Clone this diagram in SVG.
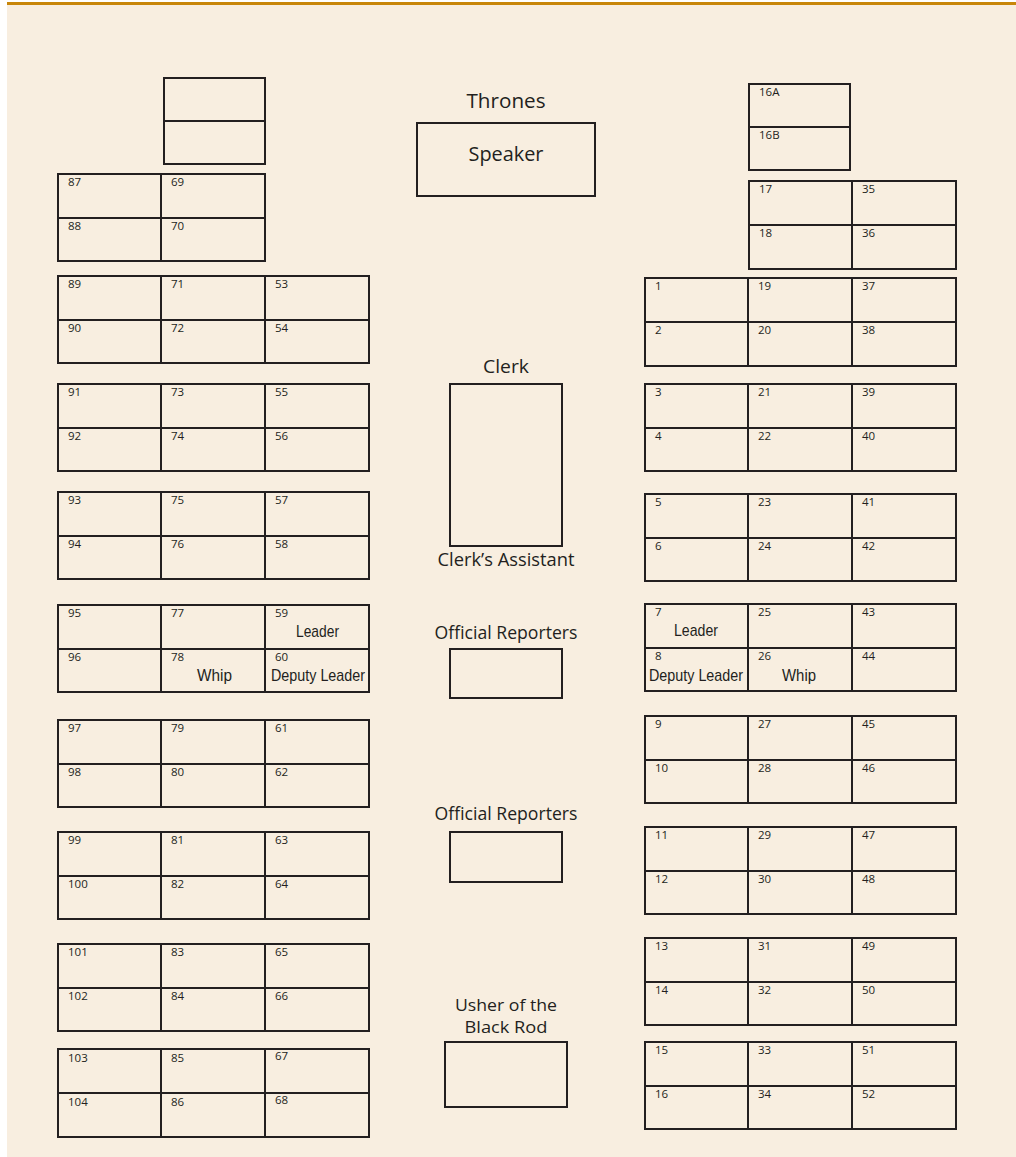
<svg xmlns="http://www.w3.org/2000/svg" width="1016" height="1157" viewBox="0 0 1016 1157">
<style>
.bg{fill:#f8eee0}
.c{fill:none;stroke:#231f20;stroke-width:2}
.n{font-family:"Open Sans","Noto Sans",sans-serif;font-size:11.5px;fill:#231f20}
.t{font-family:"Open Sans","Noto Sans",sans-serif;font-size:18px;fill:#231f20;text-anchor:middle}
.u{font-family:"Open Sans","Noto Sans",sans-serif;font-size:16px;fill:#231f20;text-anchor:middle}
.tb{font-family:"Open Sans","Noto Sans",sans-serif;font-size:20px;fill:#231f20;text-anchor:middle}
.r{font-family:"Liberation Sans",Arial,sans-serif;font-size:17px;fill:#231f20}
</style>
<rect x="0" y="0" width="1016" height="1157" fill="#ffffff"/>
<rect class="bg" x="7" y="2" width="1009" height="1155"/>
<rect x="7" y="2" width="1009" height="3" fill="#c8860a"/>

<g id="left-top">
<rect class="c" x="164" y="78" width="101" height="43"/>
<rect class="c" x="164" y="121" width="101" height="43"/>
</g>
<g id="left-87">
<rect class="c" x="58" y="174" width="103" height="44"/><rect class="c" x="161" y="174" width="104" height="44"/>
<rect class="c" x="58" y="218" width="103" height="43"/><rect class="c" x="161" y="218" width="104" height="43"/>
<text class="n" x="68" y="186">87</text><text class="n" x="171" y="186">69</text>
<text class="n" x="68" y="230">88</text><text class="n" x="171" y="230">70</text>
</g>

<g id="left-89">
<rect class="c" x="58" y="276" width="103" height="44"/><rect class="c" x="161" y="276" width="104" height="44"/><rect class="c" x="265" y="276" width="104" height="44"/>
<rect class="c" x="58" y="320" width="103" height="43"/><rect class="c" x="161" y="320" width="104" height="43"/><rect class="c" x="265" y="320" width="104" height="43"/>
<text class="n" x="68" y="288">89</text><text class="n" x="171" y="288">71</text><text class="n" x="275" y="288">53</text>
<text class="n" x="68" y="332">90</text><text class="n" x="171" y="332">72</text><text class="n" x="275" y="332">54</text>
</g>
<g id="left-91">
<rect class="c" x="58" y="384" width="103" height="44"/><rect class="c" x="161" y="384" width="104" height="44"/><rect class="c" x="265" y="384" width="104" height="44"/>
<rect class="c" x="58" y="428" width="103" height="43"/><rect class="c" x="161" y="428" width="104" height="43"/><rect class="c" x="265" y="428" width="104" height="43"/>
<text class="n" x="68" y="396">91</text><text class="n" x="171" y="396">73</text><text class="n" x="275" y="396">55</text>
<text class="n" x="68" y="440">92</text><text class="n" x="171" y="440">74</text><text class="n" x="275" y="440">56</text>
</g>
<g id="left-93">
<rect class="c" x="58" y="492" width="103" height="44"/><rect class="c" x="161" y="492" width="104" height="44"/><rect class="c" x="265" y="492" width="104" height="44"/>
<rect class="c" x="58" y="536" width="103" height="43"/><rect class="c" x="161" y="536" width="104" height="43"/><rect class="c" x="265" y="536" width="104" height="43"/>
<text class="n" x="68" y="504">93</text><text class="n" x="171" y="504">75</text><text class="n" x="275" y="504">57</text>
<text class="n" x="68" y="548">94</text><text class="n" x="171" y="548">76</text><text class="n" x="275" y="548">58</text>
</g>
<g id="left-95">
<rect class="c" x="58" y="605" width="103" height="44"/><rect class="c" x="161" y="605" width="104" height="44"/><rect class="c" x="265" y="605" width="104" height="44"/>
<rect class="c" x="58" y="649" width="103" height="43"/><rect class="c" x="161" y="649" width="104" height="43"/><rect class="c" x="265" y="649" width="104" height="43"/>
<text class="n" x="68" y="617">95</text><text class="n" x="171" y="617">77</text><text class="n" x="275" y="617">59</text>
<text class="n" x="68" y="661">96</text><text class="n" x="171" y="661">78</text><text class="n" x="275" y="661">60</text>
<text class="r" x="296" y="637" textLength="43" lengthAdjust="spacingAndGlyphs">Leader</text>
<text class="r" x="197" y="681" textLength="35" lengthAdjust="spacingAndGlyphs">Whip</text>
<text class="r" x="271" y="681" textLength="94" lengthAdjust="spacingAndGlyphs">Deputy Leader</text>
</g>
<g id="left-97">
<rect class="c" x="58" y="720" width="103" height="44"/><rect class="c" x="161" y="720" width="104" height="44"/><rect class="c" x="265" y="720" width="104" height="44"/>
<rect class="c" x="58" y="764" width="103" height="43"/><rect class="c" x="161" y="764" width="104" height="43"/><rect class="c" x="265" y="764" width="104" height="43"/>
<text class="n" x="68" y="732">97</text><text class="n" x="171" y="732">79</text><text class="n" x="275" y="732">61</text>
<text class="n" x="68" y="776">98</text><text class="n" x="171" y="776">80</text><text class="n" x="275" y="776">62</text>
</g>
<g id="left-99">
<rect class="c" x="58" y="832" width="103" height="44"/><rect class="c" x="161" y="832" width="104" height="44"/><rect class="c" x="265" y="832" width="104" height="44"/>
<rect class="c" x="58" y="876" width="103" height="43"/><rect class="c" x="161" y="876" width="104" height="43"/><rect class="c" x="265" y="876" width="104" height="43"/>
<text class="n" x="68" y="844">99</text><text class="n" x="171" y="844">81</text><text class="n" x="275" y="844">63</text>
<text class="n" x="68" y="888">100</text><text class="n" x="171" y="888">82</text><text class="n" x="275" y="888">64</text>
</g>
<g id="left-101">
<rect class="c" x="58" y="944" width="103" height="44"/><rect class="c" x="161" y="944" width="104" height="44"/><rect class="c" x="265" y="944" width="104" height="44"/>
<rect class="c" x="58" y="988" width="103" height="43"/><rect class="c" x="161" y="988" width="104" height="43"/><rect class="c" x="265" y="988" width="104" height="43"/>
<text class="n" x="68" y="956">101</text><text class="n" x="171" y="956">83</text><text class="n" x="275" y="956">65</text>
<text class="n" x="68" y="1000">102</text><text class="n" x="171" y="1000">84</text><text class="n" x="275" y="1000">66</text>
</g>
<g id="left-103">
<rect class="c" x="58" y="1049" width="103" height="44"/><rect class="c" x="161" y="1049" width="104" height="44"/><rect class="c" x="265" y="1049" width="104" height="44"/>
<rect class="c" x="58" y="1093" width="103" height="44"/><rect class="c" x="161" y="1093" width="104" height="44"/><rect class="c" x="265" y="1093" width="104" height="44"/>
<text class="n" x="68" y="1062">103</text><text class="n" x="171" y="1062">85</text><text class="n" x="275" y="1060">67</text>
<text class="n" x="68" y="1106">104</text><text class="n" x="171" y="1106">86</text><text class="n" x="275" y="1104">68</text>
</g>

<g id="right-16A">
<rect class="c" x="749" y="84" width="101" height="43"/>
<rect class="c" x="749" y="127" width="101" height="43"/>
<text class="n" x="759" y="96">16A</text><text class="n" x="759" y="139">16B</text>
</g>
<g id="right-17">
<rect class="c" x="749" y="181" width="103" height="44"/><rect class="c" x="852" y="181" width="104" height="44"/>
<rect class="c" x="749" y="225" width="103" height="44"/><rect class="c" x="852" y="225" width="104" height="44"/>
<text class="n" x="759" y="193">17</text><text class="n" x="862" y="193">35</text>
<text class="n" x="759" y="237">18</text><text class="n" x="862" y="237">36</text>
</g>
<g id="right-1">
<rect class="c" x="645" y="278" width="103" height="44"/><rect class="c" x="748" y="278" width="104" height="44"/><rect class="c" x="852" y="278" width="104" height="44"/>
<rect class="c" x="645" y="322" width="103" height="44"/><rect class="c" x="748" y="322" width="104" height="44"/><rect class="c" x="852" y="322" width="104" height="44"/>
<text class="n" x="655" y="290">1</text><text class="n" x="758" y="290">19</text><text class="n" x="862" y="290">37</text>
<text class="n" x="655" y="334">2</text><text class="n" x="758" y="334">20</text><text class="n" x="862" y="334">38</text>
</g>
<g id="right-3">
<rect class="c" x="645" y="384" width="103" height="44"/><rect class="c" x="748" y="384" width="104" height="44"/><rect class="c" x="852" y="384" width="104" height="44"/>
<rect class="c" x="645" y="428" width="103" height="43"/><rect class="c" x="748" y="428" width="104" height="43"/><rect class="c" x="852" y="428" width="104" height="43"/>
<text class="n" x="655" y="396">3</text><text class="n" x="758" y="396">21</text><text class="n" x="862" y="396">39</text>
<text class="n" x="655" y="440">4</text><text class="n" x="758" y="440">22</text><text class="n" x="862" y="440">40</text>
</g>
<g id="right-5">
<rect class="c" x="645" y="494" width="103" height="44"/><rect class="c" x="748" y="494" width="104" height="44"/><rect class="c" x="852" y="494" width="104" height="44"/>
<rect class="c" x="645" y="538" width="103" height="43"/><rect class="c" x="748" y="538" width="104" height="43"/><rect class="c" x="852" y="538" width="104" height="43"/>
<text class="n" x="655" y="506">5</text><text class="n" x="758" y="506">23</text><text class="n" x="862" y="506">41</text>
<text class="n" x="655" y="550">6</text><text class="n" x="758" y="550">24</text><text class="n" x="862" y="550">42</text>
</g>
<g id="right-7">
<rect class="c" x="645" y="604" width="103" height="44"/><rect class="c" x="748" y="604" width="104" height="44"/><rect class="c" x="852" y="604" width="104" height="44"/>
<rect class="c" x="645" y="648" width="103" height="43"/><rect class="c" x="748" y="648" width="104" height="43"/><rect class="c" x="852" y="648" width="104" height="43"/>
<text class="n" x="655" y="616">7</text><text class="n" x="758" y="616">25</text><text class="n" x="862" y="616">43</text>
<text class="n" x="655" y="660">8</text><text class="n" x="758" y="660">26</text><text class="n" x="862" y="660">44</text>
<text class="r" x="674" y="636" textLength="44" lengthAdjust="spacingAndGlyphs">Leader</text>
<text class="r" x="649" y="681" textLength="94" lengthAdjust="spacingAndGlyphs">Deputy Leader</text>
<text class="r" x="782" y="681" textLength="34" lengthAdjust="spacingAndGlyphs">Whip</text>
</g>
<g id="right-9">
<rect class="c" x="645" y="716" width="103" height="44"/><rect class="c" x="748" y="716" width="104" height="44"/><rect class="c" x="852" y="716" width="104" height="44"/>
<rect class="c" x="645" y="760" width="103" height="43"/><rect class="c" x="748" y="760" width="104" height="43"/><rect class="c" x="852" y="760" width="104" height="43"/>
<text class="n" x="655" y="728">9</text><text class="n" x="758" y="728">27</text><text class="n" x="862" y="728">45</text>
<text class="n" x="655" y="772">10</text><text class="n" x="758" y="772">28</text><text class="n" x="862" y="772">46</text>
</g>
<g id="right-11">
<rect class="c" x="645" y="827" width="103" height="44"/><rect class="c" x="748" y="827" width="104" height="44"/><rect class="c" x="852" y="827" width="104" height="44"/>
<rect class="c" x="645" y="871" width="103" height="43"/><rect class="c" x="748" y="871" width="104" height="43"/><rect class="c" x="852" y="871" width="104" height="43"/>
<text class="n" x="655" y="839">11</text><text class="n" x="758" y="839">29</text><text class="n" x="862" y="839">47</text>
<text class="n" x="655" y="883">12</text><text class="n" x="758" y="883">30</text><text class="n" x="862" y="883">48</text>
</g>
<g id="right-13">
<rect class="c" x="645" y="938" width="103" height="44"/><rect class="c" x="748" y="938" width="104" height="44"/><rect class="c" x="852" y="938" width="104" height="44"/>
<rect class="c" x="645" y="982" width="103" height="43"/><rect class="c" x="748" y="982" width="104" height="43"/><rect class="c" x="852" y="982" width="104" height="43"/>
<text class="n" x="655" y="950">13</text><text class="n" x="758" y="950">31</text><text class="n" x="862" y="950">49</text>
<text class="n" x="655" y="994">14</text><text class="n" x="758" y="994">32</text><text class="n" x="862" y="994">50</text>
</g>
<g id="right-15">
<rect class="c" x="645" y="1042" width="103" height="44"/><rect class="c" x="748" y="1042" width="104" height="44"/><rect class="c" x="852" y="1042" width="104" height="44"/>
<rect class="c" x="645" y="1086" width="103" height="43"/><rect class="c" x="748" y="1086" width="104" height="43"/><rect class="c" x="852" y="1086" width="104" height="43"/>
<text class="n" x="655" y="1054">15</text><text class="n" x="758" y="1054">33</text><text class="n" x="862" y="1054">51</text>
<text class="n" x="655" y="1098">16</text><text class="n" x="758" y="1098">34</text><text class="n" x="862" y="1098">52</text>
</g>

<g id="speaker">
<text class="tb" x="506" y="108" textLength="79" lengthAdjust="spacingAndGlyphs">Thrones</text>
<rect class="c" x="417" y="123" width="178" height="73"/>
<text class="tb" x="506" y="161" textLength="75" lengthAdjust="spacingAndGlyphs">Speaker</text>
</g>
<g id="clerk">
<text class="t" x="506" y="373" textLength="46" lengthAdjust="spacingAndGlyphs">Clerk</text>
<rect class="c" x="450" y="384" width="112" height="162"/>
<text class="t" x="506" y="566" textLength="137" lengthAdjust="spacingAndGlyphs">Clerk’s Assistant</text>
</g>
<g id="reporters-1">
<text class="t" x="506" y="639" textLength="143" lengthAdjust="spacingAndGlyphs">Official Reporters</text>
<rect class="c" x="450" y="649" width="112" height="49"/>
</g>
<g id="reporters-2">
<text class="t" x="506" y="820" textLength="143" lengthAdjust="spacingAndGlyphs">Official Reporters</text>
<rect class="c" x="450" y="832" width="112" height="50"/>
</g>
<g id="usher">
<text class="u" x="506" y="1011" textLength="102" lengthAdjust="spacingAndGlyphs">Usher of the</text>
<text class="u" x="506" y="1033" textLength="83" lengthAdjust="spacingAndGlyphs">Black Rod</text>
<rect class="c" x="445" y="1042" width="122" height="65"/>
</g>
<g id="connectors"/>
</svg>
